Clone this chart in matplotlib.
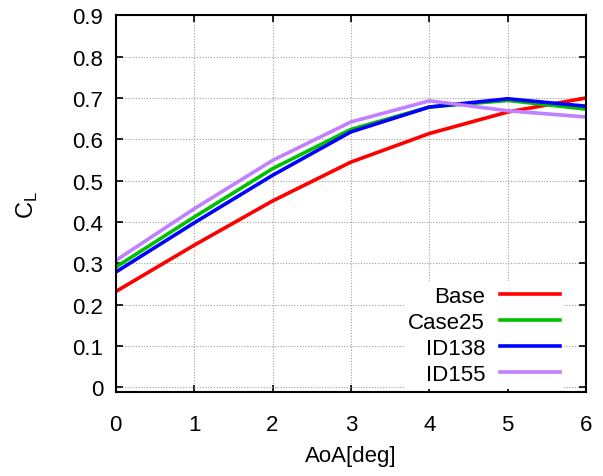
import numpy as np
import matplotlib
matplotlib.use("Agg")
import matplotlib.pyplot as plt

plt.rcParams['font.family'] = ['Liberation Sans', 'DejaVu Sans']

aoa = [0, 1, 2, 3, 4, 5, 6]
base = [0.232, 0.344, 0.451, 0.545, 0.614, 0.666, 0.700]
case25 = [0.291, 0.412, 0.529, 0.624, 0.678, 0.694, 0.673]
id138 = [0.279, 0.398, 0.513, 0.618, 0.678, 0.698, 0.680]
id155 = [0.307, 0.432, 0.549, 0.642, 0.693, 0.669, 0.654]

names = ['Base', 'Case25', 'ID138', 'ID155']
colors = ['#ff0000', '#00c000', '#0000ff', '#c080ff']
yticks = [0, 0.1, 0.2, 0.3, 0.4, 0.5, 0.6, 0.7, 0.8, 0.9]

fig = plt.figure(figsize=(6.03, 4.77), dpi=100)
ax = fig.add_axes([0.192, 0.176, 0.780, 0.790])

for vals, name, c in zip([base, case25, id138, id155], names, colors):
    ax.plot(aoa, vals, color=c, lw=2.6, label=name)

ax.set_xlim(0, 6)
ax.set_ylim(-0.011, 0.9)
ax.set_xticks(aoa)
ax.set_yticks(yticks)
ax.set_yticklabels(['0' if t == 0 else '%g' % t for t in yticks])
ax.tick_params(direction='in', top=True, right=True, length=5, labelsize=16, width=1.2)
ax.tick_params(axis='x', pad=16)
ax.tick_params(axis='y', pad=9)
ax.grid(True, color='#a0a0a0', linestyle=(0, (1, 1.5)), lw=0.8)
for s in ax.spines.values():
    s.set_linewidth(1.5)

ax.set_xlabel('AoA[deg]', fontsize=16, labelpad=7)
ax.set_ylabel('C$_\\mathregular{L}$', fontsize=17, labelpad=23)

leg = ax.legend(loc='lower right', bbox_to_anchor=(0.953, 0.008), borderaxespad=0,
                frameon=True, markerfirst=False, fontsize=16,
                handlelength=2.7, labelspacing=0.22,
                handletextpad=0.65, fancybox=False, borderpad=0.2)
leg.get_frame().set_edgecolor('none')
leg.get_frame().set_facecolor('white')
leg.get_frame().set_alpha(1)
leg.set_zorder(2.2)
for t in leg.get_texts():
    t.set_ha('right')
leg._legend_box.align = 'right'

fig.savefig('out.png', dpi=100)
